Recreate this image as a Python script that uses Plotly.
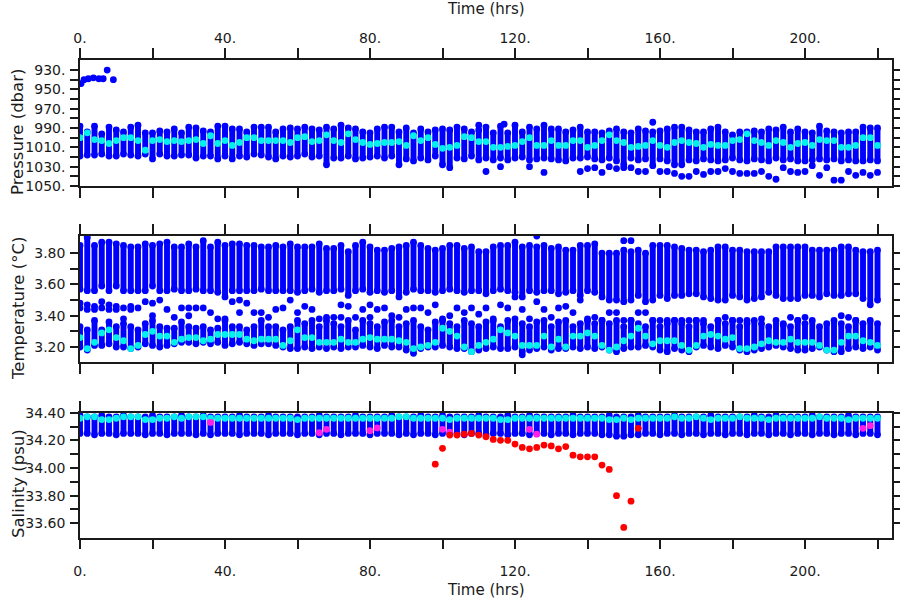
import plotly.graph_objects as go

# ---------------- data ----------------
TIMES = [0, 2, 4, 6, 8, 10, 12, 14, 16, 18, 20, 22, 24, 26, 28, 30, 32, 34, 36, 38, 40,
         42, 44, 46, 48, 50, 52, 54, 56, 58, 60, 62, 64, 66, 68, 70, 72, 74, 76, 78, 80,
         82, 84, 86, 88, 90, 92, 94, 96, 98, 100, 102, 104, 106, 108, 110, 112, 114, 116, 118, 120,
         122, 124, 126, 128, 130, 132, 134, 136, 138, 140, 142, 144, 146, 148, 150, 152, 154, 156, 158, 160,
         162, 164, 166, 168, 170, 172, 174, 176, 178, 180, 182, 184, 186, 188, 190, 192, 194, 196, 198, 200,
         202, 204, 206, 208, 210, 212, 214, 216, 218, 220]

# pressure (dbar): shallowest / deepest sample of each profile, and the highlighted sample
P_TOP = [988, 994, 988, 996, 989, 992, 994, 989, 987, 995, 995, 993, 994, 991, 995, 989, 990, 993, 994, 988, 988,
         991, 991, 994, 989, 989, 989, 994, 991, 990, 991,
         989, 991, 992, 989, 991, 987, 990, 991, 994, 995, 991, 989, 989, 994, 990, 995, 991, 994, 992, 991,
         992, 989, 991, 994, 992, 989, 995, 988, 995, 987, 994, 989, 991, 987, 991, 991, 994, 992, 989, 994,
         994, 995, 993, 991, 994, 995, 991, 993, 994, 993, 991, 989, 989, 992, 994, 994, 991, 989, 994, 997,
         994, 994, 993, 994, 991, 992, 989, 994, 991, 994, 995, 988, 993, 994, 995, 994, 994, 989, 990, 990]
P_BOT = [1019, 1018, 1018, 1017, 1019, 1019, 1017, 1018, 1019, 1017, 1022, 1017, 1019, 1019, 1018, 1018, 1021, 1019, 1019, 1022, 1019,
         1022, 1019, 1020, 1017, 1018, 1020, 1022, 1019, 1020, 1019,
         1017, 1020, 1019, 1028, 1021, 1021, 1019, 1022, 1021, 1020, 1019, 1021, 1019, 1028, 1022, 1024, 1021, 1023, 1019, 1028,
         1031, 1021, 1022, 1019, 1023, 1021, 1023, 1021, 1023, 1021, 1020, 1023, 1022, 1021, 1022, 1023, 1024, 1021, 1021, 1020,
         1022, 1023, 1021, 1024, 1028, 1021, 1023, 1022, 1029, 1022, 1024, 1028, 1028, 1023, 1024, 1022, 1023, 1024, 1023, 1021,
         1023, 1024, 1022, 1023, 1024, 1021, 1023, 1022, 1024, 1024, 1023, 1022, 1023, 1022, 1024, 1023, 1024, 1024, 1023, 1024]
P_CYAN = [1000, 995, 1002, 1003, 1006, 1003, 1000, 1000, 1003, 1013, 1003, 1002, 1004, 1003, 1004, 1003, 1002, 1006, 998, 1006, 1003,
          1008, 1005, 1000, 1000, 1003, 1003, 1003, 1003, 1005, 1000,
          999, 1004, 1003, 997, 1003, 1005, 996, 1002, 1005, 1007, 1006, 1005, 1005, 1004, 1008, 998, 1003, 1000, 1007, 1011,
          1010, 1008, 999, 1000, 1004, 1004, 1010, 1010, 1009, 1008, 1004, 1000, 1008, 1008, 1003, 1008, 1008, 1003, 1003, 1010,
          1008, 1003, 997, 1003, 1005, 1010, 1009, 1008, 1003, 1008, 1010, 1005, 1003, 1005, 1006, 1010, 1007, 1008, 1008, 1003,
          1002, 996, 1003, 1005, 1008, 1003, 1005, 1010, 1006, 1005, 1008, 1002, 1003, 1003, 1010, 1010, 1008, 1000, 1000, 1008]
# isolated pressure samples
P_OUT_T = [110, 112, 116, 117, 124, 128, 138, 140, 142, 144, 146, 148, 150, 152, 154, 156, 158, 160, 162, 164,
           166, 168, 170, 172, 174, 176, 178, 180, 182, 184, 186, 188, 190, 192, 194, 196, 198, 200, 202, 204,
           206, 208, 210, 212, 214, 216, 218, 220]
P_OUT_P = [987, 1035, 1030, 986, 1030, 1036, 1035, 1032, 1031, 1036, 1030, 1032, 1031, 1031, 1035, 1035, 984, 1035, 1035, 1037,
           1040, 1040, 1035, 1038, 1035, 1035, 1032, 1035, 1037, 1037, 1037, 1035, 1040, 1043, 1031, 1035, 1036, 1035, 1029, 1039,
           1031, 1044, 1044, 1035, 1039, 1036, 1039, 1036]
# near-surface samples at the start of the record
P_SURF_T = [0.3, 1.1, 2.3, 3.7, 5.2, 6.4, 7.5, 9.2]
P_SURF_P = [944, 940, 939, 938, 939, 939, 930, 940]

# temperature (degC): warm block and cold block of each profile, highlighted sample
T_UP_TOP = [3.85, 3.90, 3.85, 3.87, 3.87, 3.86, 3.85, 3.84, 3.84, 3.86, 3.85, 3.86, 3.87, 3.84, 3.84, 3.86, 3.84, 3.88, 3.84, 3.87, 3.85,
            3.86, 3.86, 3.85, 3.85, 3.84, 3.84, 3.85, 3.84, 3.86, 3.84,
            3.84, 3.84, 3.86, 3.83, 3.83, 3.85, 3.81, 3.85, 3.87, 3.84, 3.82, 3.82, 3.83, 3.84, 3.85, 3.87, 3.85, 3.83, 3.82, 3.83,
            3.85, 3.85, 3.83, 3.84, 3.81, 3.81, 3.84, 3.85, 3.85, 3.87, 3.84, 3.85, 3.84, 3.85, 3.83, 3.84, 3.82, 3.82, 3.85, 3.85,
            3.86, 3.80, 3.80, 3.80, 3.82, 3.81, 3.82, 3.80, 3.85, 3.85, 3.85, 3.84, 3.83, 3.82, 3.82, 3.81, 3.82, 3.84, 3.84, 3.82,
            3.82, 3.81, 3.81, 3.81, 3.81, 3.84, 3.84, 3.84, 3.84, 3.84, 3.82, 3.82, 3.82, 3.82, 3.84, 3.84, 3.82, 3.81, 3.81, 3.82]
T_UP_BOT = [3.57, 3.56, 3.56, 3.59, 3.56, 3.59, 3.56, 3.56, 3.56, 3.56, 3.59, 3.56, 3.56, 3.57, 3.56, 3.56, 3.57, 3.56, 3.56, 3.55, 3.52,
            3.56, 3.56, 3.56, 3.56, 3.57, 3.56, 3.56, 3.56, 3.56, 3.55,
            3.56, 3.57, 3.55, 3.56, 3.56, 3.57, 3.53, 3.56, 3.57, 3.55, 3.56, 3.55, 3.56, 3.52, 3.55, 3.57, 3.56, 3.56, 3.55, 3.56,
            3.57, 3.56, 3.55, 3.56, 3.56, 3.54, 3.56, 3.57, 3.56, 3.55, 3.52, 3.56, 3.55, 3.56, 3.56, 3.54, 3.55, 3.56, 3.53, 3.56,
            3.55, 3.52, 3.50, 3.50, 3.49, 3.50, 3.53, 3.49, 3.50, 3.53, 3.51, 3.53, 3.53, 3.54, 3.54, 3.52, 3.51, 3.50, 3.50, 3.53,
            3.52, 3.50, 3.51, 3.52, 3.55, 3.53, 3.51, 3.51, 3.51, 3.53, 3.53, 3.52, 3.54, 3.53, 3.53, 3.54, 3.54, 3.51, 3.47, 3.50]
T_LO_TOP = [3.33, 3.31, 3.37, 3.31, 3.36, 3.33, 3.35, 3.33, 3.31, 3.35, 3.37, 3.33, 3.32, 3.32, 3.36, 3.33, 3.32, 3.33, 3.31, 3.32, 3.37,
            3.33, 3.33, 3.31, 3.33, 3.37, 3.33, 3.33, 3.31, 3.33, 3.37,
            3.35, 3.37, 3.33, 3.37, 3.35, 3.33, 3.37, 3.31, 3.37, 3.35, 3.33, 3.36, 3.37, 3.33, 3.35, 3.37, 3.33, 3.31, 3.36, 3.38,
            3.35, 3.33, 3.37, 3.35, 3.33, 3.36, 3.37, 3.33, 3.37, 3.38, 3.35, 3.33, 3.36, 3.37, 3.33, 3.36, 3.37, 3.33, 3.35, 3.37,
            3.35, 3.37, 3.35, 3.37, 3.33, 3.37, 3.35, 3.33, 3.37, 3.33, 3.35, 3.37, 3.35, 3.33, 3.37, 3.35, 3.33, 3.37, 3.35, 3.37,
            3.33, 3.35, 3.37, 3.35, 3.33, 3.37, 3.35, 3.33, 3.37, 3.35, 3.37, 3.33, 3.35, 3.37, 3.35, 3.33, 3.37, 3.35, 3.37, 3.35]
T_LO_BOT = [3.20, 3.18, 3.21, 3.21, 3.22, 3.20, 3.20, 3.19, 3.20, 3.22, 3.21, 3.20, 3.21, 3.22, 3.23, 3.23, 3.22, 3.23, 3.22, 3.23, 3.21,
            3.22, 3.23, 3.22, 3.21, 3.22, 3.22, 3.21, 3.20, 3.19, 3.19,
            3.20, 3.19, 3.20, 3.19, 3.20, 3.19, 3.20, 3.20, 3.21, 3.20, 3.19, 3.21, 3.20, 3.20, 3.18, 3.16, 3.19, 3.20, 3.20, 3.21,
            3.20, 3.19, 3.19, 3.17, 3.18, 3.19, 3.20, 3.19, 3.19, 3.20, 3.17, 3.18, 3.19, 3.20, 3.18, 3.19, 3.19, 3.20, 3.19, 3.20,
            3.19, 3.20, 3.18, 3.17, 3.19, 3.20, 3.20, 3.21, 3.20, 3.18, 3.17, 3.19, 3.18, 3.17, 3.20, 3.21, 3.20, 3.19, 3.21, 3.20,
            3.18, 3.17, 3.18, 3.19, 3.20, 3.21, 3.20, 3.19, 3.18, 3.18, 3.19, 3.20, 3.18, 3.17, 3.17, 3.19, 3.20, 3.19, 3.20, 3.18]
T_CYAN = [3.26, 3.19, 3.23, 3.29, 3.31, 3.26, 3.24, 3.19, 3.21, 3.28, 3.30, 3.27, 3.27, 3.23, 3.25, 3.26, 3.26, 3.24, 3.25, 3.28, 3.28,
          3.28, 3.28, 3.25, 3.24, 3.25, 3.25, 3.25, 3.21, 3.24, 3.31,
          3.26, 3.26, 3.23, 3.23, 3.23, 3.25, 3.23, 3.23, 3.25, 3.26, 3.25, 3.25, 3.25, 3.24, 3.23, 3.19, 3.20, 3.21, 3.23, 3.32,
          3.30, 3.27, 3.20, 3.17, 3.21, 3.23, 3.25, 3.31, 3.29, 3.27, 3.21, 3.21, 3.21, 3.27, 3.20, 3.25, 3.20, 3.27, 3.27, 3.29,
          3.27, 3.21, 3.18, 3.20, 3.24, 3.27, 3.32, 3.27, 3.22, 3.24, 3.24, 3.24, 3.21, 3.18, 3.21, 3.27, 3.28, 3.27, 3.25, 3.26,
          3.19, 3.19, 3.20, 3.22, 3.24, 3.23, 3.23, 3.25, 3.23, 3.23, 3.23, 3.21, 3.18, 3.18, 3.23, 3.27, 3.27, 3.24, 3.23, 3.21]
# isolated temperature samples between the two blocks
T_MID_T = [0, 0, 2, 2, 4, 4, 6, 6, 8, 8, 10, 10, 12, 12, 14, 14, 16, 18, 20, 20, 22, 24, 26, 28, 30, 30, 32, 34, 36, 38,
           40, 42, 44, 44, 46, 48, 50, 52, 54, 56, 58, 60, 62, 64, 66, 68, 70, 72, 72, 74, 76, 78, 80, 80, 82, 84, 86, 88,
           90, 92, 94, 96, 98, 100, 102, 104, 106, 108, 110, 112, 114, 116, 118, 120, 122, 124, 126, 128, 130, 132, 134,
           136, 138, 140, 142, 144, 146, 148, 150, 152, 154, 156, 158, 160, 162, 164, 166, 168, 170, 172, 176, 178, 180,
           182, 184, 188, 194, 196, 198, 200, 210, 212, 214, 122, 126, 150, 152]
T_MID_V = [3.48, 3.45, 3.47, 3.44, 3.46, 3.44, 3.49, 3.45, 3.47, 3.44, 3.46, 3.44, 3.45, 3.38, 3.46, 3.44, 3.45, 3.49, 3.48, 3.40,
           3.50, 3.44, 3.39, 3.45, 3.45, 3.40, 3.45, 3.45, 3.42, 3.38, 3.38, 3.49, 3.50, 3.42, 3.48, 3.42, 3.42, 3.39, 3.44, 3.45,
           3.50, 3.42, 3.46, 3.44, 3.38, 3.39, 3.39, 3.47, 3.39, 3.46, 3.39, 3.44, 3.47, 3.39, 3.44, 3.45, 3.40, 3.39, 3.44, 3.45,
           3.45, 3.42, 3.47, 3.37, 3.40, 3.45, 3.42, 3.45, 3.41, 3.45, 3.38, 3.47, 3.45, 3.52, 3.44, 3.38, 3.49, 3.44, 3.39, 3.45,
           3.46, 3.42, 3.50, 3.38, 3.39, 3.37, 3.42, 3.42, 3.37, 3.37, 3.42, 3.42, 3.37, 3.37, 3.37, 3.37, 3.37, 3.37, 3.37, 3.37,
           3.37, 3.39, 3.37, 3.37, 3.37, 3.38, 3.34, 3.39, 3.37, 3.39, 3.40, 3.39, 3.37, 3.15, 3.91, 3.88, 3.88]

# salinity (psu)
S_TOP = [34.38, 34.37, 34.37, 34.38, 34.37, 34.37, 34.38, 34.37, 34.37, 34.37, 34.38, 34.37, 34.37, 34.37, 34.38, 34.37, 34.37, 34.38, 34.37, 34.37, 34.37,
         34.37, 34.38, 34.37, 34.37, 34.37, 34.38, 34.37, 34.37, 34.37, 34.37,
         34.37, 34.37, 34.38, 34.37, 34.37, 34.37, 34.37, 34.38, 34.37, 34.37, 34.37, 34.37, 34.38, 34.37, 34.37, 34.37, 34.38, 34.37, 34.37, 34.38,
         34.37, 34.37, 34.37, 34.37, 34.38, 34.37, 34.37, 34.37, 34.38, 34.37, 34.37, 34.38, 34.37, 34.37, 34.37, 34.37, 34.37, 34.38, 34.37, 34.37,
         34.37, 34.37, 34.38, 34.37, 34.37, 34.37, 34.38, 34.37, 34.37, 34.37, 34.37, 34.38, 34.37, 34.37, 34.37, 34.37, 34.38, 34.37, 34.37, 34.37,
         34.37, 34.37, 34.38, 34.37, 34.37, 34.38, 34.37, 34.37, 34.37, 34.37, 34.38, 34.37, 34.37, 34.37, 34.37, 34.38, 34.37, 34.37, 34.37, 34.37]
S_BOT = [34.25, 34.25, 34.24, 34.25, 34.25, 34.24, 34.25, 34.25, 34.25, 34.24, 34.25, 34.25, 34.24, 34.25, 34.25, 34.25, 34.24, 34.25, 34.24, 34.25, 34.25,
         34.25, 34.24, 34.25, 34.25, 34.25, 34.24, 34.25, 34.25, 34.25, 34.24,
         34.25, 34.25, 34.24, 34.25, 34.25, 34.24, 34.25, 34.25, 34.25, 34.24, 34.25, 34.25, 34.25, 34.24, 34.25, 34.24, 34.25, 34.25, 34.24, 34.25,
         34.25, 34.25, 34.24, 34.25, 34.25, 34.24, 34.25, 34.25, 34.24, 34.25, 34.25, 34.24, 34.25, 34.25, 34.24, 34.25, 34.25, 34.24, 34.25, 34.25,
         34.25, 34.24, 34.24, 34.23, 34.23, 34.24, 34.24, 34.25, 34.25, 34.24, 34.25, 34.25, 34.24, 34.25, 34.25, 34.24, 34.25, 34.25, 34.24, 34.25,
         34.25, 34.24, 34.25, 34.25, 34.24, 34.25, 34.25, 34.24, 34.25, 34.25, 34.24, 34.25, 34.25, 34.24, 34.25, 34.25, 34.24, 34.25, 34.25, 34.24]
S_CYAN = [34.36, 34.37, 34.37, 34.35, 34.35, 34.36, 34.37, 34.37, 34.37, 34.35, 34.35, 34.36, 34.36, 34.37, 34.36, 34.37, 34.37, 34.37, 34.36, 34.36, 34.36,
          34.36, 34.36, 34.36, 34.36, 34.36, 34.36, 34.36, 34.36, 34.36, 34.35,
          34.36, 34.36, 34.36, 34.36, 34.36, 34.36, 34.36, 34.36, 34.36, 34.36, 34.36, 34.36, 34.36, 34.37, 34.37, 34.36, 34.36, 34.36, 34.36, 34.36,
          34.35, 34.36, 34.36, 34.36, 34.36, 34.36, 34.36, 34.35, 34.35, 34.36, 34.36, 34.36, 34.36, 34.36, 34.36, 34.36, 34.36, 34.36, 34.36, 34.36,
          34.36, 34.36, 34.35, 34.35, 34.36, 34.35, 34.36, 34.36, 34.36, 34.36, 34.36, 34.37, 34.36, 34.36, 34.37, 34.36, 34.35, 34.36, 34.36, 34.36,
          34.37, 34.36, 34.36, 34.36, 34.35, 34.36, 34.36, 34.36, 34.36, 34.36, 34.36, 34.37, 34.36, 34.36, 34.36, 34.35, 34.36, 34.36, 34.36, 34.36]
S_MAG_T = [36, 66, 68, 80, 82, 100, 102, 124, 126, 216, 218]
S_MAG_V = [34.33, 34.255, 34.28, 34.27, 34.29, 34.28, 34.26, 34.28, 34.245, 34.287, 34.306]
S_RED_T = [98, 100, 102, 104, 106, 108, 110, 112, 114, 116, 118, 120, 122, 124, 126, 128, 130, 132, 134,
           136, 138, 140, 142, 144, 146, 148, 150, 152, 154]
S_RED_V = [34.028, 34.142, 34.238, 34.238, 34.245, 34.25, 34.238, 34.226, 34.207, 34.20, 34.20, 34.173, 34.149,
           34.139, 34.149, 34.166, 34.16, 34.139, 34.155, 34.093, 34.081, 34.081, 34.081, 34.021, 33.99, 33.80,
           33.57, 33.76, 34.287]

X_TICKS = [0, 20, 40, 60, 80, 100, 120, 140, 160, 180, 200, 220]
X_LABELS = ["0.", "", "40.", "", "80.", "", "120.", "", "160.", "", "200.", ""]
P_TICKS = [930, 940, 950, 960, 970, 980, 990, 1000, 1010, 1020, 1030, 1040, 1050]
P_LABELS = ["930.", "", "950.", "", "970.", "", "990.", "", "1010.", "", "1030.", "", "1050."]
T_TICKS = [3.2, 3.3, 3.4, 3.5, 3.6, 3.7, 3.8]
T_LABELS = ["3.20", "", "3.40", "", "3.60", "", "3.80"]
S_TICKS = [33.6, 33.7, 33.8, 33.9, 34.0, 34.1, 34.2, 34.3, 34.4]
S_LABELS = ["33.60", "", "33.80", "", "34.00", "", "34.20", "", "34.40"]

# ---------------- styling ----------------
BLUE = "#0000ff"
CYAN = "#00f0f0"
RED = "#ff0000"
MAGENTA = "#ff1ee6"
INK = "#1a1a1a"
DOT = 6.8
FONT = "DejaVu Sans"

fig = go.Figure()


def columns(tops, bots, xa, ya):
    xs, ys = [], []
    for t, a, b in zip(TIMES, tops, bots):
        xs += [t, t, None]
        ys += [a, b, None]
    fig.add_trace(go.Scatter(x=xs, y=ys, mode="lines+markers", xaxis=xa, yaxis=ya,
                             line=dict(color=BLUE, width=DOT - 0.9),
                             marker=dict(color=BLUE, size=DOT), hoverinfo="skip"))


def dots(x, y, color, xa, ya):
    fig.add_trace(go.Scatter(x=x, y=y, mode="markers", xaxis=xa, yaxis=ya,
                             marker=dict(color=color, size=DOT), hoverinfo="skip"))


# pressure
columns(P_TOP, P_BOT, "x", "y")
dots(P_OUT_T, P_OUT_P, BLUE, "x", "y")
dots(P_SURF_T, P_SURF_P, BLUE, "x", "y")
dots(TIMES, P_CYAN, CYAN, "x", "y")
# temperature
columns(T_UP_TOP, T_UP_BOT, "x2", "y2")
columns(T_LO_TOP, T_LO_BOT, "x2", "y2")
dots(T_MID_T, T_MID_V, BLUE, "x2", "y2")
dots(TIMES, T_CYAN, CYAN, "x2", "y2")
# salinity
columns(S_TOP, S_BOT, "x3", "y3")
dots(TIMES, S_CYAN, CYAN, "x3", "y3")
dots(S_MAG_T, S_MAG_V, MAGENTA, "x3", "y3")
dots(S_RED_T, S_RED_V, RED, "x3", "y3")

W, H = 900, 600
L, R = 80, 891.5
panels = [(60, 186), (236, 362), (412.7, 537.7)]


def ydom(top, bot):
    return [1 - bot / H, 1 - top / H]


common = dict(showline=True, linecolor=INK, linewidth=1.5, mirror="ticks", ticks="outside",
              tickcolor=INK, tickwidth=1.5, showgrid=False, zeroline=False, automargin=False,
              tickfont=dict(family=FONT, size=14, color=INK))
xcommon = dict(common, range=[0, (R - L) / 3.625], tickvals=X_TICKS, ticktext=X_LABELS,
               ticklen=10, domain=[L / W, R / W])

fig.update_layout(
    template="none",
    width=W, height=H, margin=dict(l=0, r=0, t=0, b=0, pad=0), autosize=False,
    paper_bgcolor="white", plot_bgcolor="white", showlegend=False,
    font=dict(family=FONT, size=14, color=INK),
    xaxis=dict(xcommon, anchor="y", side="top", ticklabelstandoff=0),
    xaxis2=dict(xcommon, anchor="y2", showticklabels=False),
    xaxis3=dict(xcommon, anchor="y3", side="bottom", ticklabelstandoff=10),
    yaxis=dict(common, domain=ydom(*panels[0]), range=[1050, 919.6], tickvals=P_TICKS,
               ticktext=P_LABELS, ticklen=8, anchor="x", ticklabelstandoff=2),
    yaxis2=dict(common, domain=ydom(*panels[1]), range=[3.104, 3.91], tickvals=T_TICKS,
                ticktext=T_LABELS, ticklen=8, anchor="x2", ticklabelstandoff=2),
    yaxis3=dict(common, domain=ydom(*panels[2]), range=[33.496, 34.40], tickvals=S_TICKS,
                ticktext=S_LABELS, ticklen=8, anchor="x3", ticklabelstandoff=2),
)

cx = (L + R) / 2 / W
ann = [
    dict(text="Time (hrs)", x=cx, y=1 - 9 / H, size=15, angle=0),
    dict(text="Time (hrs)", x=cx, y=1 - 590 / H, size=15, angle=0),
    dict(text="Pressure (dbar)", x=18 / W, y=1 - 132 / H, size=16.5, angle=-90),
    dict(text="Temperature (°C)", x=18 / W, y=1 - 309 / H, size=16.5, angle=-90),
    dict(text="Salinity (psu)", x=18 / W, y=1 - 484 / H, size=16.5, angle=-90),
]
for a in ann:
    fig.add_annotation(text=a["text"], x=a["x"], y=a["y"], xref="paper", yref="paper",
                       showarrow=False, textangle=a["angle"], xanchor="center", yanchor="middle",
                       font=dict(family=FONT, size=a["size"], color=INK))

fig.write_html("out.html", config={"displayModeBar": False},
               post_script="document.body.style.margin='0';document.body.style.overflow='hidden';")
